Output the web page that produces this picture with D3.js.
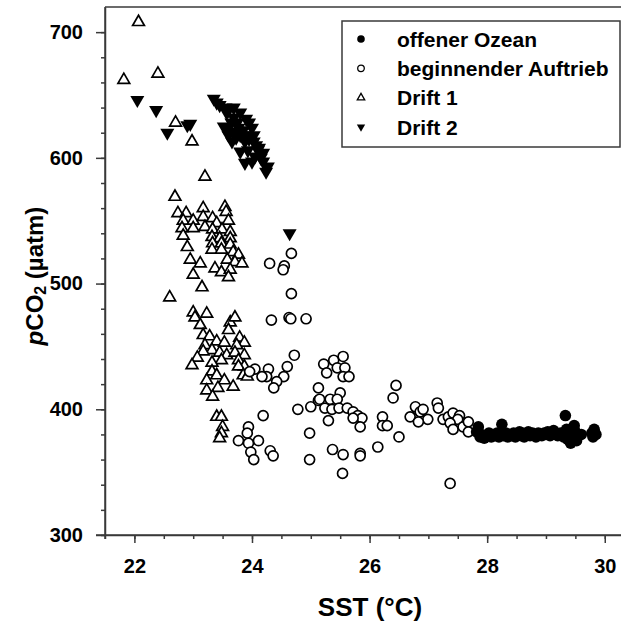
<!DOCTYPE html>
<html>
<head>
<meta charset="utf-8">
<script src="https://cdn.jsdelivr.net/npm/d3@7"></script>
<style>
  body { margin: 0; background: #fff; }
  text { font-family: "Liberation Sans", Arial, sans-serif; font-weight: bold; }
</style>
</head>
<body>
<svg width="621" height="622"></svg>
<script>
// SST (°C), pCO2 (µatm)
var offenerOzean = [
  [27.82, 382], [27.85, 386], [27.88, 378], [27.9, 380], [27.95, 377], [28.0, 379], [28.03, 381],
  [28.07, 378], [28.1, 380], [28.13, 379], [28.17, 381], [28.2, 378], [28.25, 388], [28.23, 380],
  [28.28, 379], [28.32, 381], [28.35, 378], [28.38, 380], [28.42, 379], [28.45, 381], [28.48, 378],
  [28.52, 380], [28.55, 382], [28.58, 379], [28.6, 381], [28.63, 378], [28.67, 380], [28.7, 382],
  [28.73, 379], [28.77, 381], [28.8, 380], [28.83, 378], [28.87, 381], [28.9, 380], [28.93, 379],
  [28.97, 381], [29.0, 380], [29.03, 382], [29.07, 379], [29.1, 381], [29.13, 383], [29.17, 380],
  [29.2, 379], [29.25, 381], [29.3, 378], [29.33, 395], [29.35, 384], [29.37, 376], [29.4, 380],
  [29.42, 373], [29.45, 378], [29.48, 387], [29.5, 382], [29.52, 375], [29.55, 379], [29.6, 380],
  [29.78, 381], [29.8, 378], [29.82, 384], [29.85, 380]
];

var beginnenderAuftrieb = [
  [24.67, 524], [24.3, 516], [24.55, 514], [24.53, 511], [24.67, 492], [24.33, 471], [24.63, 473],
  [24.66, 472], [24.92, 472], [24.72, 443], [24.6, 434], [24.54, 426], [24.42, 422], [24.37, 417],
  [24.28, 432], [24.25, 426], [24.17, 426], [24.05, 432], [23.96, 430], [24.19, 395], [23.94, 386],
  [23.92, 381], [23.77, 375], [23.94, 373], [24.11, 375], [23.98, 366], [24.03, 360], [24.31, 367],
  [24.36, 363], [24.78, 400], [25.0, 402], [24.98, 381], [24.98, 360], [25.13, 417], [25.13, 407],
  [25.22, 436], [25.39, 439], [25.55, 442], [25.27, 429], [25.45, 433], [25.58, 433], [25.55, 426],
  [25.65, 426], [25.5, 413], [25.15, 408], [25.33, 408], [25.45, 408], [25.24, 401], [25.36, 400],
  [25.48, 401], [25.62, 401], [25.72, 398], [25.8, 395], [25.87, 393], [25.72, 393], [25.84, 386],
  [25.3, 391], [25.37, 368], [25.55, 364], [25.84, 365], [25.84, 363], [25.54, 349], [26.14, 370],
  [26.22, 394], [26.22, 387], [26.3, 387], [26.5, 378], [26.45, 419], [26.4, 409], [26.69, 394],
  [26.81, 400], [26.78, 402], [26.86, 398], [26.91, 400], [26.99, 392], [27.15, 405], [27.17, 401],
  [26.83, 390], [27.25, 392], [27.34, 394], [27.42, 397], [27.53, 395], [27.5, 392], [27.37, 389],
  [27.42, 384], [27.59, 386], [27.68, 390], [27.68, 382], [27.37, 341]
];

var drift1 = [
  [22.07, 708], [21.82, 662], [22.4, 667], [22.7, 628], [22.98, 613], [23.2, 585], [22.69, 569],
  [22.6, 489], [22.74, 556], [22.88, 556], [23.17, 560], [23.54, 561], [23.56, 557], [22.83, 550],
  [23.0, 550], [23.17, 553], [23.33, 552], [23.4, 548], [23.6, 550], [22.81, 544], [23.0, 544],
  [23.2, 545], [23.33, 543], [23.49, 543], [23.63, 541], [22.83, 538], [23.32, 537], [23.45, 536],
  [23.63, 536], [23.33, 532], [23.48, 532], [23.63, 531], [22.9, 529], [23.32, 527], [23.48, 527],
  [23.68, 525], [23.77, 523], [22.95, 519], [23.12, 516], [23.58, 519], [23.71, 517], [23.83, 516],
  [23.37, 512], [23.48, 509], [23.63, 511], [23.0, 507], [23.6, 505], [23.15, 497],
  [23.0, 477], [23.23, 476], [23.03, 473], [23.12, 467], [23.63, 469], [23.71, 473], [23.6, 463],
  [23.17, 459], [23.28, 458], [23.4, 454], [23.53, 453], [23.79, 457], [23.87, 453], [23.2, 451],
  [23.74, 451], [23.32, 447], [23.17, 446], [23.45, 445], [23.57, 443], [23.71, 445], [23.87, 443],
  [23.07, 441], [23.48, 439], [23.77, 439], [22.98, 435], [23.32, 437], [23.87, 434], [23.77, 434],
  [23.32, 430], [23.4, 427], [23.85, 427], [23.92, 426], [23.23, 423], [23.53, 423], [23.68, 418],
  [23.23, 415], [23.42, 417], [23.33, 410], [23.4, 394], [23.48, 394], [23.5, 386], [23.48, 381],
  [23.45, 377]
];

var drift2 = [
  [22.05, 646], [22.37, 638], [22.56, 620], [22.9, 626], [22.95, 627], [24.64, 540],
  [23.35, 647], [23.4, 644], [23.55, 640], [23.69, 640], [23.8, 636], [23.57, 636], [23.69, 632],
  [23.9, 631], [23.95, 628], [23.55, 624], [23.63, 621], [23.77, 624], [24.0, 624], [23.8, 618],
  [23.9, 618], [24.03, 618], [23.66, 613], [23.88, 613], [24.03, 613], [24.07, 610], [23.93, 606],
  [24.1, 606], [24.19, 604], [24.05, 601], [23.88, 596], [24.0, 597], [24.19, 597], [24.27, 593],
  [24.24, 589], [23.8, 605], [23.73, 616], [23.52, 625], [23.45, 642], [23.6, 638], [23.75, 628],
  [23.85, 622], [23.95, 615], [24.12, 608], [24.15, 600], [23.7, 620], [23.6, 618], [23.65, 628]
];

var xTicks = [22, 24, 26, 28, 30];
var yTicks = [300, 400, 500, 600, 700];
var legendLabels = ["offener Ozean", "beginnender Auftrieb", "Drift 1", "Drift 2"];

var svg = d3.select("svg");
var axisColor = "#3a3a3a";

var x = d3.scaleLinear().domain([21.5, 30.3]).range([105, 622.4]);
var y = d3.scaleLinear().domain([300, 720]).range([535, 7]);

// frame top
svg.append("line")
  .attr("x1", x(21.5)).attr("x2", 621)
  .attr("y1", y(720)).attr("y2", y(720))
  .style("stroke", axisColor).style("stroke-width", 1.5);

// minor ticks
svg.append("g")
  .attr("transform", "translate(0," + y(300) + ")")
  .call(d3.axisBottom(x).tickValues(d3.range(21.5, 30.01, 0.5)).tickSize(4).tickFormat(""))
  .call(function (g) { g.select(".domain").remove(); });
svg.append("g")
  .attr("transform", "translate(" + x(21.5) + ",0)")
  .call(d3.axisLeft(y).tickValues(d3.range(300, 720, 20)).tickSize(4).tickFormat(""))
  .call(function (g) { g.select(".domain").remove(); });

var xAxis = svg.append("g")
  .attr("transform", "translate(0," + y(300) + ")")
  .call(d3.axisBottom(x).tickValues(xTicks).tickSize(8).tickPadding(16).tickSizeOuter(0));
var yAxis = svg.append("g")
  .attr("transform", "translate(" + x(21.5) + ",0)")
  .call(d3.axisLeft(y).tickValues(yTicks).tickSize(9).tickPadding(13).tickSizeOuter(0));

svg.selectAll(".tick line").style("stroke", axisColor).style("stroke-width", 1.5);
svg.selectAll(".domain").style("stroke", axisColor).style("stroke-width", 1.5);
svg.selectAll(".tick text")
  .style("font-size", "20px")
  .style("font-family", "Liberation Sans, Arial, sans-serif")
  .style("font-weight", "bold")
  .style("fill", "#000");

// x axis extends a little to the left, y axis a little below
svg.append("line")
  .attr("x1", 96).attr("x2", 621).attr("y1", y(300)).attr("y2", y(300))
  .style("stroke", axisColor).style("stroke-width", 1.5);
svg.append("line")
  .attr("x1", x(21.5)).attr("x2", x(21.5)).attr("y1", y(720)).attr("y2", 539)
  .style("stroke", axisColor).style("stroke-width", 1.5);

// titles
svg.append("text")
  .attr("x", 370).attr("y", 616)
  .attr("text-anchor", "middle")
  .style("font-size", "26px")
  .text("SST (°C)");

var yTitle = svg.append("text")
  .attr("transform", "translate(43,276) rotate(-90)")
  .attr("text-anchor", "middle")
  .style("font-size", "24px");
yTitle.append("tspan").style("font-style", "italic").text("p");
yTitle.append("tspan").text("CO");
yTitle.append("tspan").attr("dy", 3).style("font-size", "16px").text("2");
yTitle.append("tspan").attr("dy", -3).text(" (µatm)");

var tri = d3.symbol().type(d3.symbolTriangle).size(60);

// points
svg.append("g").selectAll("path")
  .data(drift1).enter().append("path")
  .attr("d", tri)
  .attr("transform", function (d) { return "translate(" + x(d[0]) + "," + y(d[1]) + ")"; })
  .style("fill", "#fff").style("stroke", "#000").style("stroke-width", 1.7);

svg.append("g").selectAll("circle")
  .data(beginnenderAuftrieb).enter().append("circle")
  .attr("cx", function (d) { return x(d[0]); })
  .attr("cy", function (d) { return y(d[1]); })
  .attr("r", 5)
  .style("fill", "#fff").style("stroke", "#000").style("stroke-width", 1.7);

svg.append("g").selectAll("circle")
  .data(offenerOzean).enter().append("circle")
  .attr("cx", function (d) { return x(d[0]); })
  .attr("cy", function (d) { return y(d[1]); })
  .attr("r", 5.8)
  .style("fill", "#000");

svg.append("g").selectAll("path")
  .data(drift2).enter().append("path")
  .attr("d", d3.symbol().type(d3.symbolTriangle).size(85))
  .attr("transform", function (d) { return "translate(" + x(d[0]) + "," + y(d[1]) + ") rotate(180)"; })
  .style("fill", "#000");

// legend
var legend = svg.append("g");
legend.append("rect")
  .attr("x", 342).attr("y", 21).attr("width", 278).attr("height", 126)
  .style("fill", "#fff").style("stroke", axisColor).style("stroke-width", 1.5);

var rowY = d3.scalePoint().domain(legendLabels).range([39, 127]);
var rows = legend.selectAll("g.row")
  .data(legendLabels).enter().append("g")
  .attr("class", "row")
  .attr("transform", function (d) { return "translate(0," + rowY(d) + ")"; });

rows.append("text")
  .attr("x", 397).attr("dy", "0.36em")
  .style("font-size", "21px")
  .text(function (d) { return d; });

rows.each(function (d, i) {
  var g = d3.select(this);
  if (i === 0) {
    g.append("circle").attr("cx", 361).attr("r", 3.8).style("fill", "#000");
  } else if (i === 1) {
    g.append("circle").attr("cx", 361).attr("r", 3.3)
      .style("fill", "#fff").style("stroke", "#000").style("stroke-width", 1.3);
  } else if (i === 2) {
    g.append("path").attr("d", d3.symbol().type(d3.symbolTriangle).size(24))
      .attr("transform", "translate(361,0)")
      .style("fill", "#fff").style("stroke", "#000").style("stroke-width", 1.3);
  } else {
    g.append("path").attr("d", d3.symbol().type(d3.symbolTriangle).size(30))
      .attr("transform", "translate(361,0) rotate(180)")
      .style("fill", "#000");
  }
});
</script>
</body>
</html>
